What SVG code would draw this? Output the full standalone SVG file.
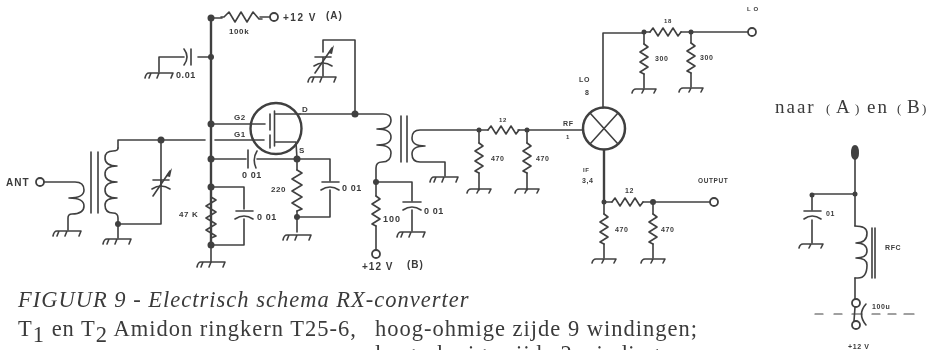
<svg xmlns="http://www.w3.org/2000/svg" width="935" height="350" viewBox="0 0 935 350">
<style>
.w{fill:none;stroke:#404040;stroke-width:1.6;stroke-linejoin:round;stroke-linecap:round}
.t{stroke-width:2.4}
.d{fill:#404040}
.o{fill:#fff;stroke:#404040;stroke-width:1.8}
text{fill:#3a3a3a}
.l{font:bold 8px "Liberation Sans",sans-serif;letter-spacing:.6px}
.m{font:bold 10px "Liberation Sans",sans-serif;letter-spacing:1px}
.c{font:italic 22.500px "Liberation Serif",serif;letter-spacing:1px}
.b{font:22.500px "Liberation Serif",serif;letter-spacing:1px}
</style>
<defs>
<filter id="scan" x="0" y="0" width="100%" height="100%"><feGaussianBlur stdDeviation="0.55"/></filter>
<path id="gnd" class="w" d="M-14 7Q-13 2-10 2H14L12 7M0 2L-2 7M-8 2L-10 7"/>
<path id="gs" class="w" d="M-12 6Q-11 2-8 2H12L10 6M0 2L-2 6"/>
<path id="rb" class="w" d="M0 0L5 3-5 9 5 15-5 21 5 27-5 33 5 39 0 41"/>
<path id="rs" class="w" d="M0 0L4 3-4 8 4 13-4 18 4 23-4 28 0 30"/>
<path id="rh" class="w" d="M0 0L3-4 8 4 13-4 18 4 23-4 28 4 31 0"/>
<path id="rl" class="w" d="M0 0H3L8-5 14 5 20-5 26 5 32-5 38 2H41"/>
<g id="cv">
<path class="w" d="M-8-3H8M-9 6Q0 0 9 6M0-3V3"/>
<path class="w" d="M-8 13L9-12"/>
<path class="d" d="M5-7L11-15 9-6Z"/>
</g>
</defs>
<g filter="url(#scan)">
<g id="connectors">
<path class="w t" d="M211 18V245"/>
<path class="w" d="M211 18H222M260 17H270"/>
<path class="w" d="M198 57H211M184 57H159V72"/>
<path class="w" d="M211 124H265M118 148V140H205M215 140H264"/>
<path class="w" d="M161 140V224H118"/>
<path class="w" d="M211 159H246M257 159H330V181M330 190V217H297"/>
<path class="w" d="M211 187H244V209M244 219V245H211"/>
<path class="w" d="M297 159V170M297 211V232"/>
<path class="w" d="M300 114H355V40H323V52M323 64V76"/>
<path class="w" d="M376 182H412V201M412 210V231"/>
<path class="w" d="M518 130H583"/>
<path class="w" d="M603 108V33H644M691 32H748"/>
<path class="w t" d="M604 150V202"/>
<path class="w" d="M653 202H710"/>
<path class="w" d="M855 158V226M855 194H812V210M812 220V243"/>
<path class="w" d="M855 278V299"/>
</g>
<g id="ant"><circle class="o" cx="40" cy="182" r="4"/><text class="m" x="6" y="186">ANT</text></g>
<g id="t1">
<path class="w" d="M44 182H75Q84 182 84 190Q84 198 69 198Q84 198 84 206Q84 214 72 214Q68 214 68 218V230"/>
<path class="w" d="M91 152V213M98 152V213"/>
<path class="w" d="M118 148Q118 151 113 151Q105 151 105 158Q105 166 117 166Q105 166 105 174Q105 182 117 182Q105 182 105 190Q105 198 117 198Q105 198 105 205Q105 213 113 213Q118 213 118 218V238"/>
<use href="#gnd" x="67" y="229"/><use href="#gnd" x="117" y="237"/>
<circle class="d" cx="118" cy="224" r="3"/>
</g>
<g id="c-tune"><use href="#cv" x="161" y="183"/><circle class="d" cx="161" cy="140" r="3.500"/></g>
<g id="c-g2">
<path class="w" d="M184 49Q190 57 184 65M191 49V65"/>
<use href="#gnd" x="159" y="71"/>
<text class="l" x="176" y="78" style="font-size:9px">0.01</text>
<circle class="d" cx="211" cy="57" r="3"/>
</g>
<g id="r-100k">
<use href="#rl" x="221" y="17"/><circle class="d" cx="211" cy="18" r="3.500"/>
<circle class="o" cx="274" cy="17" r="4"/>
<text class="l" x="229" y="34">100k</text>
<text class="m" x="283" y="21" style="letter-spacing:1.500px">+12 V</text>
<text class="m" x="326" y="19">(A)</text>
</g>
<g id="fet">
<circle class="w t" cx="276" cy="128.500" r="25.500"/>
<path class="w" d="M270 114V130M270 135V148M274.500 111V146M275 114H300M275 142H296L297 159"/>
<text class="l" x="234" y="120">G2</text><text class="l" x="234" y="137">G1</text>
<text class="l" x="302" y="112">D</text><text class="l" x="299" y="153">S</text>
<circle class="d" cx="211" cy="124" r="3.500"/>
</g>
<g id="c-gs">
<path class="w" d="M248 150V168M257 151Q252 159 256 168"/>
<text class="l" x="242" y="178" style="font-size:9px">0 01</text>
<circle class="d" cx="211" cy="159" r="3.500"/><circle class="d" cx="297" cy="159" r="3.500"/>
</g>
<g id="r-47k">
<use href="#rb" x="211" y="197"/><circle class="d" cx="211" cy="187" r="3.500"/><circle class="d" cx="211" cy="245" r="3.500"/>
<use href="#gnd" x="211" y="260"/><path class="w" d="M211 245V262"/>
<text class="l" x="179" y="217">47 K</text>
</g>
<g id="c-47k">
<path class="w" d="M236 211H253M235 219Q244 213 253 219"/>
<text class="l" x="257" y="220" style="font-size:9px">0 01</text>
</g>
<g id="r-220">
<use href="#rb" x="297" y="170"/>
<circle class="d" cx="297" cy="217" r="3"/>
<use href="#gnd" x="297" y="233"/>
<text class="l" x="271" y="192">220</text>
</g>
<g id="c-s">
<path class="w" d="M322 182H339M321 190Q330 184 339 190"/>
<text class="l" x="342" y="191" style="font-size:9px">0 01</text>
</g>
<g id="c-var2"><use href="#cv" x="323" y="60"/><use href="#gnd" x="322" y="75"/><circle class="d" cx="355" cy="114" r="3.500"/></g>
<g id="t2">
<path class="w" d="M355 114H383Q391 114 391 120Q391 129 377 129Q391 129 391 137Q391 145 377 145Q391 145 391 153Q391 162 382 162Q376 162 376 168V182"/>
<path class="w" d="M401 116V162M407 116V162"/>
<path class="w" d="M479 130H420Q412 130 412 138Q412 146 425 146Q412 146 412 154Q412 162 420 162H445V176"/>
<use href="#gnd" x="444" y="175"/>
<circle class="d" cx="376" cy="182" r="3"/>
</g>
<g id="r-100">
<use href="#rs" x="376" y="196"/><path class="w" d="M376 182V196M376 226V250"/>
<circle class="o" cx="376" cy="254" r="4"/>
<text class="m" x="383" y="222" style="font-size:9px">100</text>
<text class="m" x="362" y="270">+12 V</text><text class="m" x="407" y="268">(B)</text>
</g>
<g id="c-100">
<path class="w" d="M403 202H421M403 210Q412 204 421 210"/>
<use href="#gnd" x="411" y="230"/>
<text class="l" x="424" y="214" style="font-size:9px">0 01</text>
</g>
<g id="r-12a">
<use href="#rh" x="488" y="130"/><path class="w" d="M479 130H488"/>
<circle class="d" cx="479" cy="130" r="2.500"/><circle class="d" cx="527" cy="130" r="2.500"/>
<text class="l" x="499" y="122" style="font-size:6px">12</text>
</g>
<g id="r-470a"><use href="#rs" x="479" y="143"/><path class="w" d="M479 130V143M479 173V190"/><use href="#gs" x="479" y="187"/><text class="l" x="491" y="161" style="font-size:7px">470</text></g>
<g id="r-470b"><use href="#rs" x="527" y="143"/><path class="w" d="M527 130V143M527 173V190"/><use href="#gs" x="527" y="187"/><text class="l" x="536" y="161" style="font-size:7px">470</text></g>
<g id="mixer">
<circle class="w" style="stroke-width:2.500" cx="604" cy="128.500" r="21"/>
<path class="w" d="M590 113L618 144M618 113L590 144"/>
<text class="l" x="563" y="126" style="font-size:7px">RF</text><text class="l" x="566" y="139" style="font-size:6px">1</text>
<text class="l" x="579" y="82" style="font-size:7px">LO</text><text class="l" x="585" y="95" style="font-size:7px">8</text>
<text class="l" x="583" y="172" style="font-size:6px">IF</text><text class="l" x="582" y="183" style="font-size:7px">3,4</text>
</g>
<g id="r-18">
<use href="#rh" x="650" y="32"/><path class="w" d="M644 32H650M681 32H691"/>
<circle class="d" cx="644" cy="32" r="2.500"/><circle class="d" cx="691" cy="32" r="2.500"/>
<text class="l" x="664" y="23" style="font-size:6px">18</text>
</g>
<g id="r-300a"><use href="#rs" x="644" y="44"/><path class="w" d="M644 32V44M644 74V88"/><use href="#gs" x="644" y="87"/><text class="l" x="655" y="61" style="font-size:7px">300</text></g>
<g id="r-300b"><use href="#rs" x="691" y="43"/><path class="w" d="M691 32V43M691 73V87"/><use href="#gs" x="691" y="86"/><text class="l" x="700" y="60" style="font-size:7px">300</text></g>
<g id="lo-out"><circle class="o" cx="752" cy="32" r="4"/><text class="l" x="747" y="11" style="font-size:6px">L O</text></g>
<g id="r-12b">
<use href="#rh" x="612" y="202"/><path class="w" d="M604 202H612M643 202H653"/>
<circle class="d" cx="604" cy="202" r="2.500"/><circle class="d" cx="653" cy="202" r="3"/>
<text class="l" x="625" y="193" style="font-size:7px">12</text>
</g>
<g id="r-470c"><use href="#rs" x="604" y="214"/><path class="w" d="M604 202V214M604 244V258"/><use href="#gs" x="604" y="257"/><text class="l" x="615" y="232" style="font-size:7px">470</text></g>
<g id="r-470d"><use href="#rs" x="653" y="214"/><path class="w" d="M653 202V214M653 244V258"/><use href="#gs" x="653" y="257"/><text class="l" x="661" y="232" style="font-size:7px">470</text></g>
<g id="output"><circle class="o" cx="714" cy="202" r="4"/><text class="l" x="698" y="183" style="font-size:6.500px">OUTPUT</text></g>
<g id="side">
<text y="113" style="font:19px 'Liberation Serif',serif;letter-spacing:2px"><tspan x="775">naar</tspan><tspan x="826" font-size="13">(</tspan><tspan x="836">A</tspan><tspan x="855" font-size="13">)</tspan><tspan x="867">en</tspan><tspan x="897" font-size="13">(</tspan><tspan x="907">B</tspan><tspan x="922" font-size="13">)</tspan></text>
<path class="d" d="M855 145Q859 145 859 153Q859 159 855 160Q851 159 851 153Q851 145 855 145Z"/>
<circle class="d" cx="855" cy="194" r="2.500"/><circle class="d" cx="812" cy="195" r="2.500"/>
<path class="w" d="M804 211H821M804 219Q812 213 821 219"/>
<use href="#gs" x="811" y="242"/>
<text class="l" x="826" y="216" style="font-size:7px">01</text>
<path class="w" d="M855 226Q867 226 867 233Q867 243 856 243Q867 243 867 251Q867 258 856 258Q867 258 867 265Q867 278 858 278H855"/>
<path class="w" d="M872 228V278M875 228V278"/>
<text class="l" x="885" y="250" style="font-size:7px">RFC</text>
<circle class="o" cx="856" cy="303" r="4"/><circle class="o" cx="856" cy="325" r="4"/>
<path class="w" d="M855 307L854 321M866 304Q857 314 866 325"/>
<path class="w" d="M815 314H823M834 314H842M852 314H862M872 314H880M888 314H896M904 314H914" style="stroke-width:1.200"/>
<text class="l" x="872" y="309" style="font-size:7px">100u</text>
<text class="l" x="848" y="349" style="font-size:7px">+12 V</text>
</g>
<g id="caption">
<text class="c" x="18" y="307">FIGUUR 9 - Electrisch schema RX-converter</text>
<text class="b" x="18" y="336">T<tspan dy="6">1</tspan><tspan dy="-6"> en T</tspan><tspan dy="6">2</tspan><tspan dy="-6"> Amidon ringkern T25-6,</tspan><tspan x="375">hoog-ohmige zijde 9 windingen;</tspan></text>
<text class="b" x="375" y="361">laag-ohmige zijde 2 windingen</text>
</g>
</g>
</svg>
